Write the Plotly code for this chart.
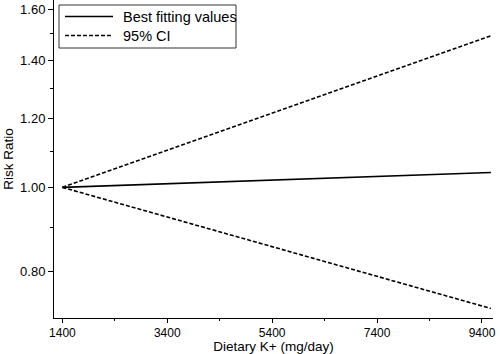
import plotly.graph_objects as go
import math

# Data
intake = [1400, 9570]                 # Dietary K+ (mg/day)
rr_best = [1.00, 1.040]               # Best fitting values
rr_upper = [1.00, 1.493]              # 95% CI upper
rr_lower = [1.00, 0.726]              # 95% CI lower

y_tickvals = [0.80, 1.00, 1.20, 1.40, 1.60]
y_ticktext = ["0.80", "1.00", "1.20", "1.40", "1.60"]
y_minor = [0.90, 1.10, 1.30, 1.50]
x_tickvals = [1400, 3400, 5400, 7400, 9400]
x_minor = [2400, 4400, 6400, 8400]
legend_labels = ["Best fitting values", "95% CI"]

FONT = "'Liberation Sans', Arial, sans-serif"
W, H = 500, 354
ML, MR, MT, MB = 54, 7, 0, 36
PW, PH = W - ML - MR, H - MT - MB


def px(x):  # pixel -> paper x
    return (x - ML) / PW


def py(y):  # pixel -> paper y
    return 1 - (y - MT) / PH


fig = go.Figure()
fig.add_trace(go.Scatter(x=intake, y=rr_best, mode="lines", name=legend_labels[0],
                         line=dict(color="black", width=1.6)))
fig.add_trace(go.Scatter(x=intake, y=rr_upper, mode="lines", name=legend_labels[1],
                         line=dict(color="black", width=1.6, dash="4px,2px")))
fig.add_trace(go.Scatter(x=intake, y=rr_lower, mode="lines", name=legend_labels[1] + " (lower)",
                         line=dict(color="black", width=1.6, dash="4px,2px")))

# Legend drawn as a framed box with sample lines and text labels
shapes = [
    dict(type="rect", xref="paper", yref="paper", x0=px(59), x1=px(236), y0=py(48), y1=py(5),
         line=dict(color="#333", width=1), fillcolor="white", layer="above"),
    dict(type="line", xref="paper", yref="paper", x0=px(65), x1=px(113), y0=py(16.5), y1=py(16.5),
         line=dict(color="black", width=1.6), layer="above"),
    dict(type="line", xref="paper", yref="paper", x0=px(65), x1=px(113), y0=py(35.5), y1=py(35.5),
         line=dict(color="black", width=1.6, dash="4px,2px"), layer="above"),
]
annotations = [
    dict(text=legend_labels[0], xref="paper", yref="paper", x=px(121), y=py(17),
         xanchor="left", yanchor="middle", showarrow=False, font=dict(size=14.5)),
    dict(text=legend_labels[1], xref="paper", yref="paper", x=px(121), y=py(36),
         xanchor="left", yanchor="middle", showarrow=False, font=dict(size=14.5)),
]

fig.update_layout(
    width=W, height=H,
    margin=dict(l=ML, r=MR, t=MT, b=MB),
    paper_bgcolor="white", plot_bgcolor="white",
    font=dict(family=FONT, size=13, color="black"),
    showlegend=False,
    shapes=shapes, annotations=annotations,
    xaxis=dict(range=[1240, 9610], tickmode="array", tickvals=x_tickvals,
               showline=True, linecolor="black", linewidth=1,
               ticks="outside", ticklen=4, tickcolor="black",
               showgrid=False, zeroline=False, tickfont=dict(size=12),
               minor=dict(tickmode="array", tickvals=x_minor, ticks="outside",
                          ticklen=2, tickcolor="black"),
               title=dict(text="Dietary K+ (mg/day)", standoff=2, font=dict(size=13.5))),
    yaxis=dict(type="log", range=[math.log10(0.708), math.log10(1.641)],
               tickmode="array", tickvals=y_tickvals, ticktext=y_ticktext,
               showline=True, linecolor="black", linewidth=1,
               ticks="outside", ticklen=5, tickcolor="black",
               showgrid=False, zeroline=False, tickfont=dict(size=13),
               minor=dict(tickmode="array", tickvals=y_minor, ticks="outside",
                          ticklen=3, tickcolor="black"),
               title=dict(text="Risk Ratio", standoff=3, font=dict(size=13.5))),
)

fig.write_html("out.html", config={"displayModeBar": False},
               post_script="document.body.style.margin='0';document.body.style.overflow='hidden';")
